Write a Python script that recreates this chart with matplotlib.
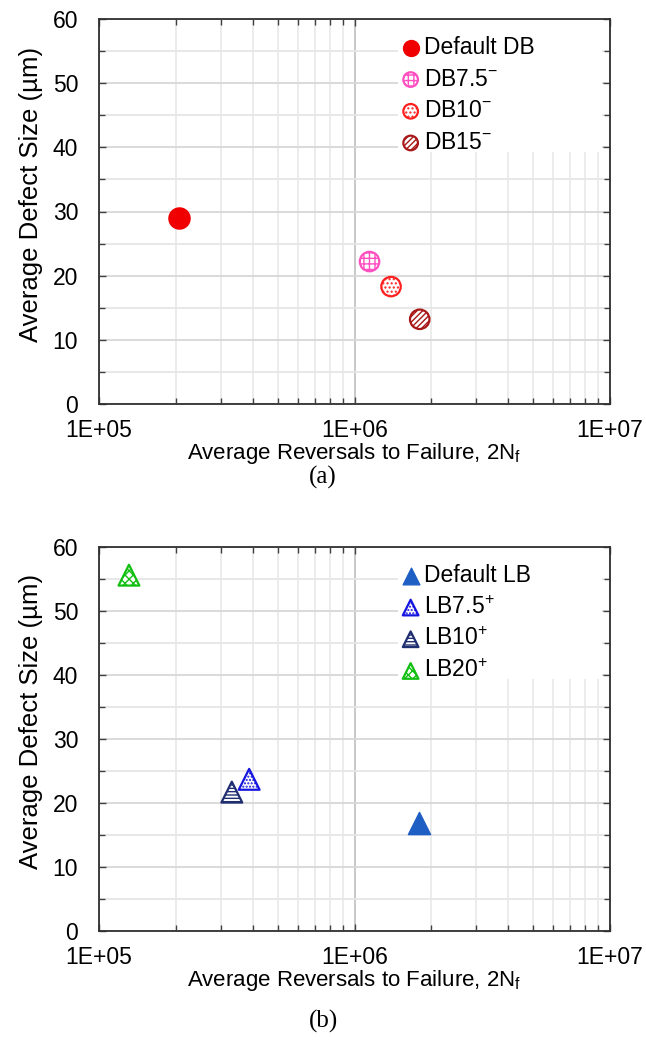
import matplotlib
matplotlib.use("Agg")
import matplotlib.pyplot as plt
from matplotlib.patches import Rectangle
from matplotlib.ticker import LogLocator, MultipleLocator, FixedLocator, NullFormatter

plt.rcParams['font.family'] = ['Liberation Sans', 'DejaVu Sans']
plt.rcParams['mathtext.fontset'] = 'custom'
plt.rcParams['mathtext.rm'] = 'Liberation Sans'
plt.rcParams['mathtext.it'] = 'Liberation Sans:italic'
plt.rcParams['hatch.linewidth'] = 1.0

# ---- data (panel a) ----
db_labels = ['Default DB', 'DB7.5$^{-}$', 'DB10$^{-}$', 'DB15$^{-}$']
db_x = [2.05e5, 1.145e6, 1.39e6, 1.80e6]
db_y = [29.0, 22.2, 18.3, 13.2]
db_colors = ['#F00000', '#FF4FC0', '#FF2020', '#A81818']
db_hatch = [None, '+++', '....', '//////']

# ---- data (panel b) ----
lb_labels = ['Default LB', 'LB7.5$^{+}$', 'LB10$^{+}$', 'LB20$^{+}$']
lb_x = [1.79e6, 3.87e5, 3.31e5, 1.31e5]
lb_y = [16.9, 23.7, 21.7, 55.6]
lb_colors = ['#1F5FC4', '#1515E0', '#1F2E70', '#12C012']
lb_hatch = [None, '.....', '-----', 'xxxx']

x_ticks = [1e5, 1e6, 1e7]
x_ticklabels = ['1E+05', '1E+06', '1E+07']
y_ticks = [0, 10, 20, 30, 40, 50, 60]

W, H = 646, 1050
fig = plt.figure(figsize=(W / 100, H / 100), dpi=100)

FS_TICK = 16.5
FS_X = 16
FS_Y = 18.5
FS_LEG = 16.5

def make_axes(top_px, bot_px):
    left, right = 99, 610
    return fig.add_axes([left / W, 1 - bot_px / H, (right - left) / W, (bot_px - top_px) / H])

def style(ax):
    ax.set_xscale('log')
    ax.set_xlim(1e5, 1e7)
    ax.set_ylim(0, 60)
    ax.xaxis.set_major_locator(FixedLocator(x_ticks))
    ax.set_xticklabels(x_ticklabels)
    ax.xaxis.set_minor_locator(LogLocator(base=10, subs=range(2, 10)))
    ax.xaxis.set_minor_formatter(NullFormatter())
    ax.yaxis.set_major_locator(FixedLocator(y_ticks))
    ax.yaxis.set_minor_locator(MultipleLocator(5))
    ax.grid(True, which='major', axis='x', color='#c4c4c4', lw=1.3)
    ax.grid(True, which='minor', axis='x', color='#ebebeb', lw=1.3)
    ax.grid(True, which='major', axis='y', color='#d8d8d8', lw=1.3)
    ax.grid(True, which='minor', axis='y', color='#e6e6e6', lw=1.3)
    ax.set_axisbelow(True)
    ax.tick_params(which='both', direction='in', top=True, right=True,
                   labelsize=FS_TICK, color='#404040')
    ax.tick_params(which='major', length=5, width=1)
    ax.tick_params(which='minor', length=4, width=1)
    ax.tick_params(axis='x', pad=11)
    ax.tick_params(axis='y', pad=15)
    for s in ax.spines.values():
        s.set_color('#303030')
        s.set_linewidth(1.3)
        s.set_zorder(4)
    ax.set_ylabel('Average Defect Size (\u00b5m)', fontsize=FS_Y)
    ax.yaxis.set_label_coords(-0.11, 0.545)
    ax.set_xlabel('Average Reversals to Failure, 2N$_{\\mathrm{f}}$', fontsize=FS_X)
    ax.xaxis.set_label_coords(0.5, -0.097)
    # white legend area hiding grid
    ax.add_patch(Rectangle((0.585, 0.655), 0.40, 0.343, transform=ax.transAxes,
                           facecolor='white', edgecolor='none', zorder=1))

def add_legend(ax):
    leg = ax.legend(loc='upper left', bbox_to_anchor=(0.565, 0.98), frameon=False,
                    fontsize=FS_LEG, handletextpad=0.0, labelspacing=0.38, borderpad=0.4,
                    markerscale=0.75, handlelength=1.2, borderaxespad=0)
    leg.set_zorder(5)

# Panel a
ax1 = make_axes(19, 404)
style(ax1)
for i in range(len(db_x)):
    if db_hatch[i] is None:
        ax1.scatter([db_x[i]], [db_y[i]], s=15 ** 2, marker='o', facecolor=db_colors[i],
                    edgecolor=db_colors[i], linewidth=1.2, label=db_labels[i], zorder=3)
    else:
        ax1.scatter([db_x[i]], [db_y[i]], s=14 ** 2, marker='o', facecolor='white',
                    edgecolor=db_colors[i], hatch=db_hatch[i], linewidth=1.6,
                    label=db_labels[i], zorder=3)
add_legend(ax1)

# Panel b
ax2 = make_axes(547, 931)
style(ax2)
for i in range(len(lb_x)):
    if lb_hatch[i] is None:
        ax2.scatter([lb_x[i]], [lb_y[i]], s=16 ** 2, marker='^', facecolor=lb_colors[i],
                    edgecolor=lb_colors[i], linewidth=1.0, label=lb_labels[i], zorder=3)
    else:
        ax2.scatter([lb_x[i]], [lb_y[i]], s=15 ** 2, marker='^', facecolor='white',
                    edgecolor=lb_colors[i], hatch=lb_hatch[i], linewidth=1.6,
                    label=lb_labels[i], zorder=3)
add_legend(ax2)

fig.text(323 / W, 1 - 477 / H, '(a)', ha='center', va='center', fontsize=18,
         family='Liberation Serif')
fig.text(323 / W, 1 - 1021 / H, '(b)', ha='center', va='center', fontsize=18,
         family='Liberation Serif')

fig.savefig('out.png', dpi=100)
